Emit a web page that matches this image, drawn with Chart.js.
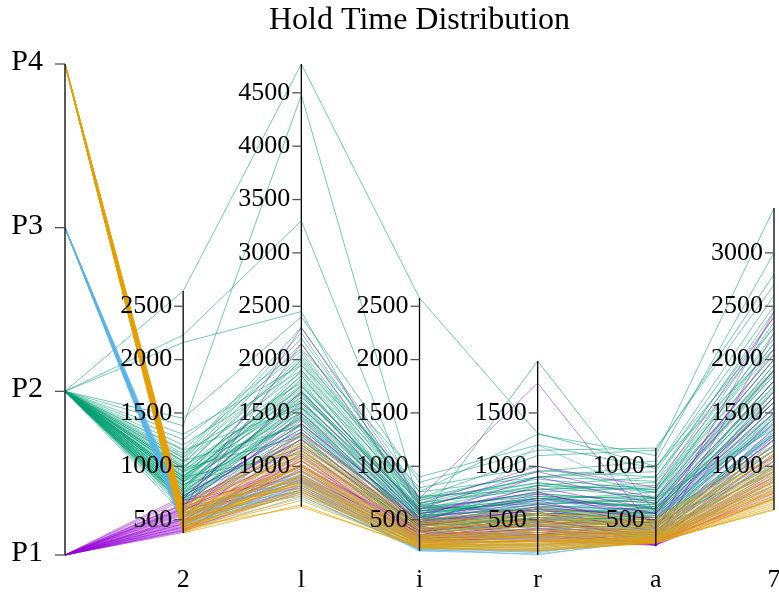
<!DOCTYPE html>
<html>
<head>
<meta charset="utf-8">
<script src="https://cdn.jsdelivr.net/npm/chart.js@4"></script>
<style>
  html, body { margin: 0; padding: 0; background: #ffffff; }
  #wrap { width: 779px; height: 599px; }
</style>
</head>
<body>
<div id="wrap"><canvas id="chart" width="779" height="599"></canvas></div>
<script>
// Parallel coordinates of hold times per key, one line per sample, coloured by class
const chartTitle = 'Hold Time Distribution';
const classLabels = ['P1', 'P2', 'P3', 'P4'];
const keyColumns = ['2', 'l', 'i', 'r', 'a', '7'];
const tickStep = 500;

// Hold times (ms) per sample, columns follow keyColumns
const p1Rows = [
  [600, 2300, 700, 1780, 390, 2450],
  [550, 2150, 650, 1000, 800, 2400],
  [700, 1700, 600, 950, 700, 2000],
  [520, 1500, 550, 800, 600, 1800],
  [480, 1300, 500, 700, 560, 1600],
  [650, 1250, 460, 650, 500, 1500],
  [420, 1200, 430, 600, 460, 1400],
  [580, 1150, 400, 560, 420, 1300],
  [450, 1100, 380, 520, 400, 1250],
  [380, 1080, 360, 480, 380, 1200],
  [500, 1050, 340, 460, 360, 1150],
  [620, 1000, 420, 440, 340, 1100],
  [400, 980, 320, 420, 320, 1050],
  [540, 950, 300, 400, 300, 1000],
  [460, 920, 350, 380, 290, 950],
  [680, 900, 380, 360, 280, 900],
  [430, 880, 330, 340, 270, 860],
  [560, 850, 310, 320, 265, 820],
  [390, 820, 290, 300, 260, 780],
  [600, 800, 280, 350, 280, 750],
  [500, 780, 300, 330, 300, 720],
  [440, 1400, 520, 900, 650, 1900],
  [510, 1600, 580, 760, 480, 1700],
  [470, 1000, 400, 500, 350, 1350],
  [640, 1180, 450, 620, 520, 1550],
  [410, 760, 260, 310, 262, 700],
  [720, 1350, 480, 580, 253, 1250],
  [590, 1050, 360, 410, 270, 2250],
  [460, 1120, 390, 500, 330, 1280],
  [520, 960, 340, 420, 300, 1080],
  [430, 1260, 440, 600, 380, 1450],
  [610, 870, 300, 360, 270, 880],
  [400, 1020, 350, 450, 310, 1120],
  [570, 1320, 480, 680, 430, 1650],
  [490, 900, 320, 380, 285, 930],
  [640, 1430, 500, 740, 560, 2100]
];

const p2Rows = [
  [2643, 4770, 2577, 1310, 1000, 2300],
  [1380, 4480, 630, 850, 700, 1900],
  [2230, 3300, 540, 700, 620, 1600],
  [2160, 2450, 480, 1987, 560, 1800],
  [1450, 2400, 850, 1150, 1171, 2700],
  [1100, 2300, 760, 1300, 1100, 3420],
  [1050, 2200, 700, 950, 1050, 3000],
  [980, 2050, 650, 900, 950, 2500],
  [900, 1950, 600, 820, 900, 2400],
  [1200, 1900, 720, 780, 850, 2200],
  [850, 1850, 560, 760, 800, 2100],
  [950, 1800, 520, 700, 720, 2000],
  [780, 1750, 600, 650, 680, 1950],
  [1000, 1720, 480, 620, 640, 1850],
  [700, 1680, 540, 600, 600, 1800],
  [880, 1650, 620, 580, 560, 1750],
  [820, 1600, 450, 560, 520, 1700],
  [760, 1580, 500, 540, 500, 1650],
  [1150, 1550, 580, 700, 600, 1600],
  [680, 1520, 420, 520, 480, 1550],
  [920, 1500, 470, 500, 460, 1500],
  [740, 1470, 520, 480, 440, 1480],
  [800, 1440, 400, 460, 420, 1450],
  [650, 1400, 440, 600, 560, 1400],
  [1050, 1380, 380, 520, 500, 1380],
  [720, 1350, 460, 440, 400, 1350],
  [860, 1320, 500, 420, 380, 1300],
  [620, 1300, 360, 480, 450, 1280],
  [980, 1280, 420, 400, 420, 1250],
  [700, 1250, 340, 380, 360, 1200],
  [760, 1220, 380, 560, 520, 1180],
  [600, 1200, 400, 440, 400, 1150],
  [830, 1170, 320, 360, 380, 1100],
  [680, 1150, 360, 400, 350, 1050],
  [900, 1120, 440, 500, 470, 1000],
  [640, 1100, 300, 340, 340, 980],
  [1300, 1950, 800, 1000, 750, 2050],
  [1250, 2100, 900, 1200, 980, 2600],
  [740, 1650, 680, 880, 780, 1900],
  [860, 1850, 560, 640, 700, 2250],
  [1000, 1600, 600, 750, 650, 1750],
  [700, 1700, 500, 600, 540, 1600],
  [950, 1400, 520, 720, 600, 1500],
  [780, 1900, 640, 550, 620, 1700],
  [560, 1000, 330, 360, 380, 950],
  [880, 2000, 700, 1100, 1150, 2800],
  [1020, 2150, 620, 900, 1000, 2100],
  [820, 1450, 480, 820, 700, 1350],
  [1120, 1780, 560, 680, 760, 2350],
  [910, 1620, 520, 640, 580, 1650],
  [670, 1480, 450, 500, 520, 1420],
  [1080, 2250, 660, 780, 820, 2150],
  [720, 1550, 560, 680, 620, 1900],
  [880, 1750, 620, 720, 700, 2000],
  [660, 1400, 480, 560, 540, 1550],
  [940, 1680, 540, 600, 560, 1800],
  [800, 1820, 700, 840, 760, 2150],
  [760, 1500, 460, 520, 500, 1450],
  [1040, 1880, 580, 660, 640, 1950],
  [700, 1320, 420, 480, 470, 1300],
  [860, 1560, 500, 580, 580, 1650],
  [980, 2020, 760, 900, 860, 2450],
  [640, 1250, 380, 440, 430, 1250],
  [900, 1700, 600, 740, 680, 1850],
  [780, 1380, 440, 500, 480, 1400],
  [1160, 2080, 680, 960, 900, 2300],
  [820, 1620, 520, 620, 600, 1720],
  [690, 1460, 470, 540, 520, 1500],
  [960, 1760, 580, 700, 660, 1880],
  [730, 1280, 400, 470, 450, 1320],
  [1080, 1980, 640, 820, 780, 2050],
  [850, 1540, 500, 560, 560, 1600]
];

const p3Rows = [
  [520, 1000, 350, 500, 500, 1500],
  [480, 950, 320, 450, 460, 1400],
  [560, 920, 300, 420, 430, 1300],
  [450, 900, 280, 380, 400, 1250],
  [590, 880, 260, 350, 380, 1200],
  [540, 860, 250, 320, 360, 1150],
  [430, 840, 240, 300, 340, 1100],
  [620, 820, 230, 280, 330, 1050],
  [510, 800, 220, 250, 320, 1000],
  [470, 780, 215, 220, 310, 950],
  [600, 760, 210, 200, 305, 900],
  [460, 740, 206, 180, 300, 850],
  [560, 720, 225, 169, 320, 800],
  [420, 700, 240, 190, 340, 820],
  [550, 850, 270, 260, 360, 1050],
  [480, 900, 300, 1200, 700, 1300],
  [580, 960, 330, 700, 520, 1450],
  [440, 780, 260, 230, 350, 980],
  [500, 870, 270, 300, 370, 1150],
  [460, 820, 250, 260, 340, 1020],
  [540, 930, 310, 400, 420, 1320],
  [480, 760, 230, 210, 320, 900],
  [520, 890, 290, 330, 390, 1200]
];

const p4Rows = [
  [620, 1300, 500, 600, 520, 1200],
  [580, 1250, 480, 560, 500, 1150],
  [650, 1200, 460, 520, 480, 1100],
  [600, 1150, 440, 500, 460, 1050],
  [520, 1100, 420, 480, 440, 1000],
  [630, 1080, 400, 460, 420, 980],
  [480, 1050, 380, 440, 400, 950],
  [560, 1020, 360, 420, 390, 920],
  [460, 1000, 350, 400, 380, 900],
  [610, 980, 340, 380, 370, 880],
  [530, 950, 330, 360, 360, 850],
  [420, 920, 320, 350, 350, 820],
  [590, 900, 310, 340, 340, 800],
  [400, 880, 300, 320, 330, 780],
  [490, 860, 290, 300, 320, 760],
  [470, 840, 280, 290, 310, 740],
  [570, 820, 270, 270, 300, 720],
  [430, 800, 260, 260, 295, 700],
  [410, 780, 250, 250, 290, 680],
  [390, 760, 240, 230, 285, 660],
  [380, 720, 235, 220, 282, 640],
  [400, 680, 245, 210, 280, 620],
  [375, 640, 232, 205, 290, 600],
  [420, 620, 250, 240, 300, 590],
  [540, 1000, 300, 350, 400, 950],
  [460, 900, 270, 300, 330, 850],
  [500, 1180, 440, 540, 460, 1100],
  [440, 740, 260, 280, 310, 700],
  [480, 960, 330, 380, 350, 860],
  [520, 1060, 380, 450, 400, 960],
  [440, 860, 290, 310, 320, 780],
  [560, 1120, 420, 480, 430, 1020],
  [460, 920, 310, 340, 340, 820],
  [500, 1010, 350, 400, 370, 900],
  [420, 780, 260, 270, 300, 690],
  [540, 1140, 400, 500, 450, 1080],
  [480, 840, 280, 300, 315, 760],
  [600, 1220, 460, 560, 490, 1150]
];

const classRows = [p1Rows, p2Rows, p3Rows, p4Rows];
const classColors = [
  'rgba(148, 0, 211, 0.48)',
  'rgba(0, 158, 115, 0.55)',
  'rgba(86, 180, 233, 0.6)',
  'rgba(230, 159, 0, 0.68)'
];
// drawing order: green at the back, orange in front
const classOrder = [3, 4, 2, 1];

const allRows = classRows.flat();
const columnMin = keyColumns.map((_, j) => Math.min(...allRows.map(r => r[j])));
const columnMax = keyColumns.map((_, j) => Math.max(...allRows.map(r => r[j])));
const yMin = Math.min(...columnMin);
const yMax = Math.max(...columnMax);

// the class axis is spread evenly over the full height of the plot
function classValue(k) {
  return yMin + k * (yMax - yMin) / (classLabels.length - 1);
}

const datasets = [];
classRows.forEach((rows, k) => {
  rows.forEach(row => {
    datasets.push({
      data: [classValue(k), ...row],
      borderColor: classColors[k],
      borderWidth: 1,
      pointRadius: 0,
      tension: 0,
      fill: false,
      clip: false,
      order: classOrder[k]
    });
  });
});

const serif = '"Liberation Serif", "DejaVu Serif", serif';

const parallelAxes = {
  id: 'parallelAxes',
  afterDatasetsDraw(chart) {
    const { ctx, chartArea, scales: { x, y } } = chart;
    ctx.save();

    // class axis
    const x0 = x.getPixelForValue(0);
    ctx.strokeStyle = '#000';
    ctx.lineWidth = 1.3;
    ctx.beginPath();
    ctx.moveTo(x0, y.getPixelForValue(classValue(0)));
    ctx.lineTo(x0, y.getPixelForValue(classValue(classLabels.length - 1)));
    ctx.stroke();
    ctx.font = '30px ' + serif;
    ctx.fillStyle = '#000';
    ctx.textAlign = 'right';
    ctx.textBaseline = 'middle';
    classLabels.forEach((lab, k) => {
      const py = y.getPixelForValue(classValue(k));
      ctx.strokeStyle = '#555';
      ctx.lineWidth = 1.3;
      ctx.beginPath();
      ctx.moveTo(x0 - 10, py);
      ctx.lineTo(x0, py);
      ctx.stroke();
      ctx.fillText(lab, x0 - 22, py - 2);
    });

    // one axis per key, spanning that key's range
    keyColumns.forEach((name, j) => {
      const px = x.getPixelForValue(j + 1);
      ctx.strokeStyle = '#000';
      ctx.lineWidth = 1.3;
      ctx.beginPath();
      ctx.moveTo(px, y.getPixelForValue(columnMin[j]));
      ctx.lineTo(px, y.getPixelForValue(columnMax[j]));
      ctx.stroke();

      ctx.font = '26px ' + serif;
      ctx.textAlign = 'right';
      ctx.textBaseline = 'middle';
      for (let v = Math.ceil(columnMin[j] / tickStep) * tickStep; v <= columnMax[j]; v += tickStep) {
        const py = y.getPixelForValue(v);
        ctx.strokeStyle = '#555';
        ctx.beginPath();
        ctx.moveTo(px - 9, py);
        ctx.lineTo(px, py);
        ctx.stroke();
        ctx.fillText(String(v), px - 11, py);
      }

      ctx.font = '26px ' + serif;
      ctx.textAlign = 'center';
      ctx.textBaseline = 'middle';
      ctx.fillText(name, px, chartArea.bottom + 25);
    });

    // title
    ctx.font = '32px ' + serif;
    ctx.textAlign = 'center';
    ctx.textBaseline = 'middle';
    ctx.fillText(chartTitle, (chartArea.left + chartArea.right) / 2, 21);
    ctx.restore();
  }
};

new Chart(document.getElementById('chart'), {
  type: 'line',
  data: { labels: ['', ...keyColumns], datasets },
  options: {
    responsive: false,
    devicePixelRatio: 1,
    animation: false,
    layout: { padding: { left: 65, right: 5, top: 64, bottom: 44 } },
    plugins: { legend: { display: false }, tooltip: { enabled: false }, title: { display: false } },
    scales: {
      x: { type: 'category', display: false, offset: false },
      y: { type: 'linear', display: false, min: yMin, max: yMax }
    }
  },
  plugins: [parallelAxes]
});
</script>
</body>
</html>
